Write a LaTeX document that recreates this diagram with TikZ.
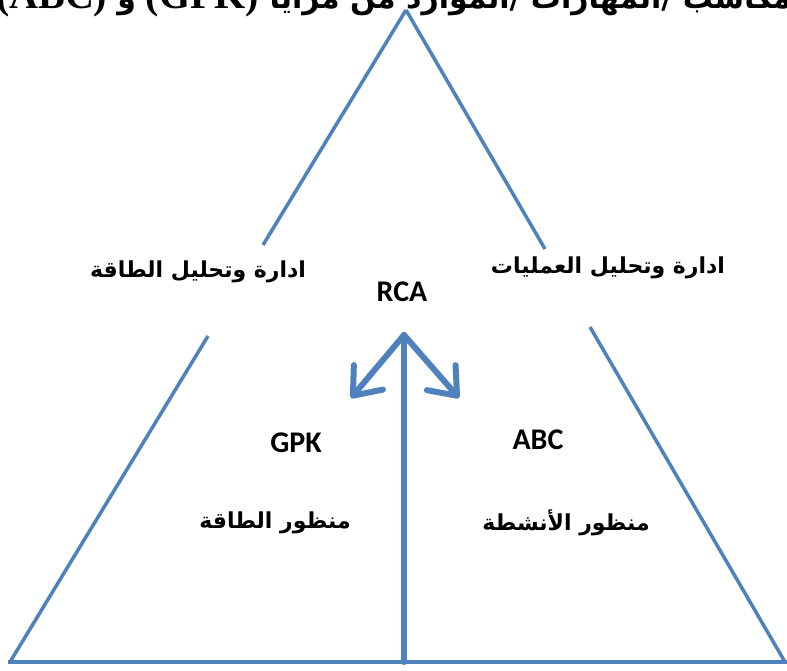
\documentclass[tikz,border=0pt]{standalone}
\usepackage{fontspec}
\usetikzlibrary{arrows.meta}
\newfontfamily\arabicfont[Script=Arabic]{DejaVu Sans}
\newfontfamily\calibfont{Carlito}
\newfontfamily\timesfont{Liberation Serif}
\TeXXeTstate=1
\definecolor{triblue}{HTML}{4F81BD}
\tikzset{
  side/.style={line width=3.5pt,color=triblue},
  shaft/.style={line width=6pt,color=triblue,line cap=round},
  arlbl/.style={font=\arabicfont\bfseries\fontsize{22}{26}\selectfont},
  latlbl/.style={font=\calibfont\bfseries\fontsize{30}{34}\selectfont}
}
\begin{document}
\begin{tikzpicture}[x=1pt,y=-1pt,>={Straight Barb[length=24pt,width=38pt,round]}]
	\useasboundingbox (0,0) rectangle (787,671);
	% sides of the triangle, broken where the labels sit
	\draw[side] (406,10)--(263,245);
	\draw[side] (208,336)--(10,662);
	\draw[side] (406,10)--(545,249);
	\draw[side] (590,327)--(785,662);
	\draw[side] (8,662)--(787,662);
	% centre line and the two arrows
	\coordinate (top) at (404,335);
	\coordinate (foot) at (404,662);
	\draw[shaft] (foot)--(top);
	\draw[shaft,->] (top)--(351,398);
	\draw[shaft,->] (top)--(459,398);
	% labels
	\node[anchor=base west,inner sep=0pt] (title) at (-4,9) {\timesfont\bfseries\fontsize{40}{44}\selectfont
		\beginR{\arabicfont\fontsize{30}{34}\selectfont علاقة نسبية مكاسب /المهارات /الموارد من مزايا }\beginL(GPK)\endL{} {\arabicfont\fontsize{30}{34}\selectfont و} \beginL(ABC)\endL\endR};
	\node[arlbl] (energymgmt) at (198,272) {\beginR ادارة وتحليل الطاقة\endR};
	\node[arlbl] (opsmgmt) at (608,268) {\beginR ادارة وتحليل العمليات\endR};
	\node[latlbl] (rca) at (402,292) {RCA};
	\node[latlbl] (gpk) at (296,443) {GPK};
	\node[latlbl] (abc) at (538,440) {ABC};
	\node[arlbl] (energyview) at (275,523) {\beginR منظور الطاقة\endR};
	\node[arlbl] (actview) at (566,523) {\beginR منظور الأنشطة\endR};
\end{tikzpicture}
\end{document}
